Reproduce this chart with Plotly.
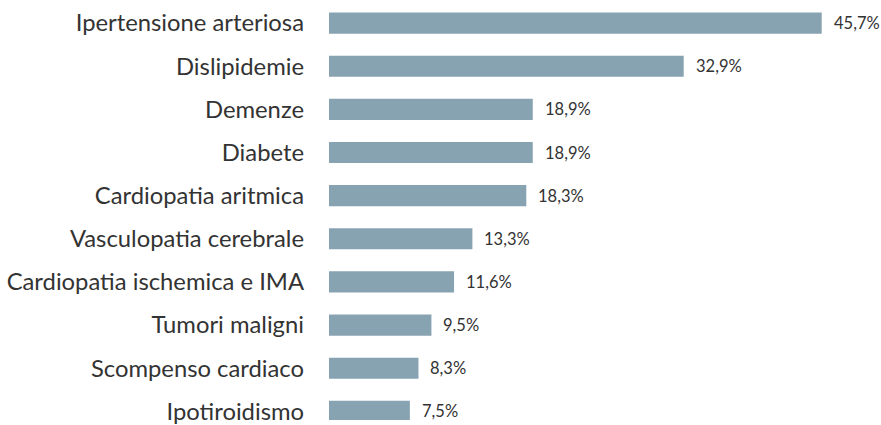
import plotly.graph_objects as go

# categorie e percentuali
malattie = ["Ipertensione arteriosa", "Dislipidemie", "Demenze", "Diabete",
            "Cardiopatia aritmica", "Vasculopatia cerebrale",
            "Cardiopatia ischemica e IMA", "Tumori maligni",
            "Scompenso cardiaco", "Ipotiroidismo"]
percentuali = [45.7, 32.9, 18.9, 18.9, 18.3, 13.3, 11.6, 9.5, 8.3, 7.5]
etichette = [f"{v:.1f}%".replace(".", ",") for v in percentuali]

fig = go.Figure(go.Bar(
    x=percentuali, y=malattie, orientation="h",
    marker=dict(color="#87a3b1", line=dict(width=0)),
    width=0.49,
))

for m, v, t in zip(malattie, percentuali, etichette):
    fig.add_annotation(x=v, y=m, text=t, showarrow=False, xanchor="left",
                       xshift=10, font=dict(size=16.5, color="#333333", family="Lato"))

fig.update_layout(
    width=881, height=425,
    margin=dict(l=329, r=0, t=0, b=0),
    plot_bgcolor="white", paper_bgcolor="white",
    showlegend=False,
    font=dict(family="Lato", color="#333333"),
    xaxis=dict(range=[0, 51.2], visible=False),
    # l'ultima barra è tagliata in basso come nell'originale
    yaxis=dict(categoryorder="array", categoryarray=malattie,
               range=[9.2, -0.535], showgrid=False, zeroline=False,
               tickfont=dict(size=23.8, color="#333333"),
               ticklabelstandoff=24, showline=False, ticks=""),
)

# niente margine nel body, così la figura parte da (0, 0)
js = "document.body.style.margin='0';document.body.style.overflow='hidden';"
fig.write_html("out.html", post_script=js, config={"displayModeBar": False})
